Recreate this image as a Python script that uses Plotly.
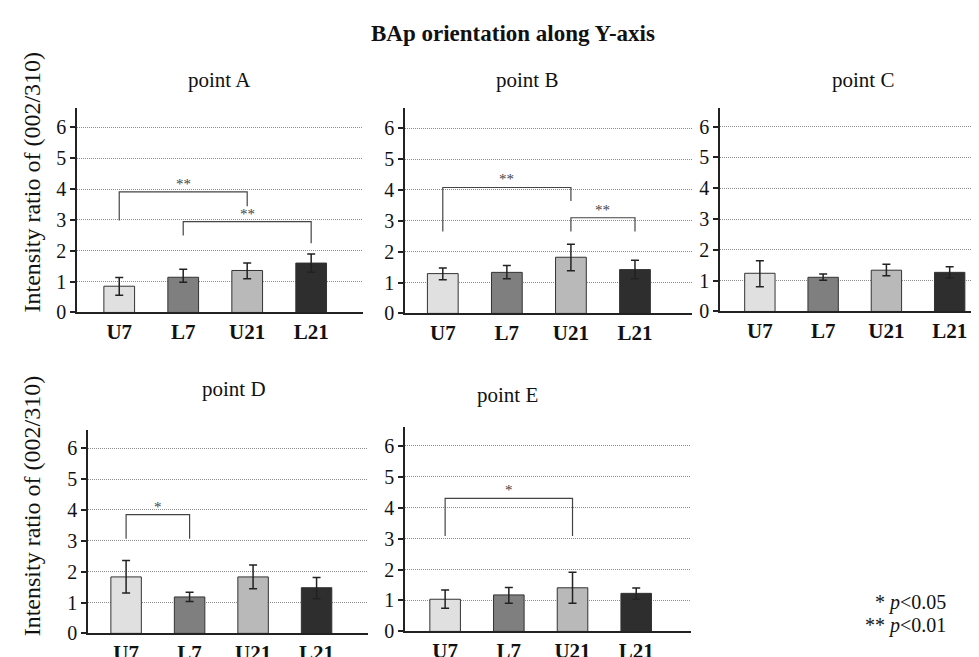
import plotly.graph_objects as go

categories = ["U7", "L7", "U21", "L21"]
panel_names = ["point A", "point B", "point C", "point D", "point E"]

# means and error (plus / minus) per panel
means_A = [0.85, 1.14, 1.36, 1.60]
err_plus_A = [0.28, 0.26, 0.24, 0.29]
err_minus_A = [0.29, 0.16, 0.27, 0.30]

means_B = [1.29, 1.33, 1.82, 1.42]
err_plus_B = [0.18, 0.22, 0.42, 0.30]
err_minus_B = [0.20, 0.21, 0.44, 0.30]

means_C = [1.24, 1.11, 1.34, 1.27]
err_plus_C = [0.41, 0.11, 0.19, 0.18]
err_minus_C = [0.44, 0.10, 0.18, 0.18]

means_D = [1.83, 1.18, 1.83, 1.48]
err_plus_D = [0.53, 0.15, 0.39, 0.33]
err_minus_D = [0.52, 0.15, 0.38, 0.36]

means_E = [1.04, 1.18, 1.41, 1.23]
err_plus_E = [0.30, 0.24, 0.50, 0.17]
err_minus_E = [0.29, 0.27, 0.50, 0.19]

# significance brackets: (panel index, from cat, to cat, top y, left leg end, right leg end, label)
brackets = [
    (0, 0, 2, 3.91, 2.98, 3.44, "**"),
    (0, 1, 3, 2.94, 2.49, 2.24, "**"),
    (1, 0, 2, 4.08, 2.65, 3.64, "**"),
    (1, 2, 3, 3.10, 2.65, 2.65, "**"),
    (3, 0, 1, 3.85, 3.07, 3.07, "*"),
    (4, 0, 2, 4.30, 3.08, 3.08, "*"),
]

y_ticks = [0, 1, 2, 3, 4, 5, 6]
bar_colors = ["#e0e0e0", "#7f7f7f", "#b9b9b9", "#2e2e2e"]

W, H = 979, 657
SERIF = "Liberation Serif"

# layout (pixel boxes) for each panel
panels = [
    dict(x=(69, 355), y=(103, 314), xr=(-0.66, 3.81), yr=6.63, t=(211, 74)),
    dict(x=(397, 684), y=(103, 315), xr=(-0.59, 3.89), yr=6.66, t=(519, 74)),
    dict(x=(712, 979), y=(103, 313), xr=(-0.63, 3.59), yr=6.61, t=(855, 74)),
    dict(x=(80, 360), y=(435, 645), xr=(-0.60, 3.81), yr=6.60, t=(226, 393)),
    dict(x=(397, 683), y=(432, 643), xr=(-0.63, 3.86), yr=6.61, t=(500, 399)),
]

series = [
    (means_A, err_plus_A, err_minus_A),
    (means_B, err_plus_B, err_minus_B),
    (means_C, err_plus_C, err_minus_C),
    (means_D, err_plus_D, err_minus_D),
    (means_E, err_plus_E, err_minus_E),
]

fig = go.Figure()
annotations = []
shapes = []

for k, (p, (m, ep, em)) in enumerate(zip(panels, series)):
    suffix = "" if k == 0 else str(k + 1)
    xa, ya = "x" + suffix, "y" + suffix
    fig.add_trace(go.Bar(
        x=list(range(len(categories))), y=m,
        xaxis=xa, yaxis=ya,
        width=0.48,
        marker=dict(color=bar_colors, line=dict(color="#333333", width=1)),
        error_y=dict(type="data", symmetric=False, array=ep, arrayminus=em,
                     color="#222222", thickness=1.5, width=4),
        showlegend=False,
    ))
    xdom = [p["x"][0] / W, p["x"][1] / W]
    ydom = [1 - p["y"][1] / H, 1 - p["y"][0] / H]
    fig.layout["xaxis" + suffix] = dict(
        domain=xdom, range=list(p["xr"]), anchor=ya,
        tickvals=list(range(len(categories))),
        ticktext=["<b>%s</b>" % c for c in categories],
        showgrid=False, zeroline=False, showline=True, linecolor="#222222", linewidth=1.5,
        ticks="", tickfont=dict(family=SERIF, size=21, color="#111111"),
        fixedrange=True,
    )
    fig.layout["yaxis" + suffix] = dict(
        domain=ydom, range=[0, p["yr"]], anchor=xa,
        tickvals=y_ticks, ticktext=[str(v) for v in y_ticks],
        showgrid=True, gridcolor="#8c8c8c", griddash="1px,1px", gridwidth=1,
        zeroline=False, showline=True, linecolor="#222222", linewidth=1.5,
        ticks="outside", ticklen=5, tickcolor="#222222", tickwidth=1.5,
        tickfont=dict(family=SERIF, size=20, color="#111111"),
        fixedrange=True,
    )
    annotations.append(dict(
        text=panel_names[k], x=p["t"][0] / W, y=1 - p["t"][1] / H,
        xref="paper", yref="paper", showarrow=False,
        font=dict(family=SERIF, size=21, color="#111111"),
        xanchor="center", yanchor="middle",
    ))

for (k, i, j, ytop, yl, yr_, lab) in brackets:
    suffix = "" if k == 0 else str(k + 1)
    xr, yr = "x" + suffix, "y" + suffix
    path = f"M {i},{yl} L {i},{ytop} L {j},{ytop} L {j},{yr_}"
    shapes.append(dict(type="path", path=path, xref=xr, yref=yr,
                       line=dict(color="#444444", width=1.2)))
    annotations.append(dict(
        text=lab, x=(i + j) / 2, y=ytop, xref=xr, yref=yr, showarrow=False,
        xanchor="center", yanchor="bottom", yshift=-2,
        font=dict(family=SERIF, size=15, color="#444444"),
    ))

# main title
annotations.append(dict(
    text="<b>BAp orientation along Y-axis</b>", x=505 / W, y=1 - 26 / H,
    xref="paper", yref="paper", showarrow=False,
    font=dict(family=SERIF, size=23, color="#111111"),
    xanchor="center", yanchor="middle",
))
# y-axis titles
for yc in (180, 514):
    annotations.append(dict(
        text="Intensity ratio of (002/310)", x=24 / W, y=1 - yc / H,
        xref="paper", yref="paper", showarrow=False, textangle=-90,
        font=dict(family=SERIF, size=24, color="#111111"),
        xanchor="center", yanchor="middle",
    ))
# significance legend
for txt, yc in (("* <i>p</i>&lt;0.05", 613), ("** <i>p</i>&lt;0.01", 637)):
    annotations.append(dict(
        text=txt, x=940 / W, y=1 - yc / H,
        xref="paper", yref="paper", showarrow=False,
        font=dict(family=SERIF, size=20, color="#111111"),
        xanchor="right", yanchor="middle",
    ))

fig.update_layout(
    width=W, height=H,
    margin=dict(l=0, r=0, t=0, b=0),
    paper_bgcolor="white", plot_bgcolor="white",
    annotations=annotations, shapes=shapes,
    bargap=0.5,
)

fig.write_html("out.html", config={"displayModeBar": False})
